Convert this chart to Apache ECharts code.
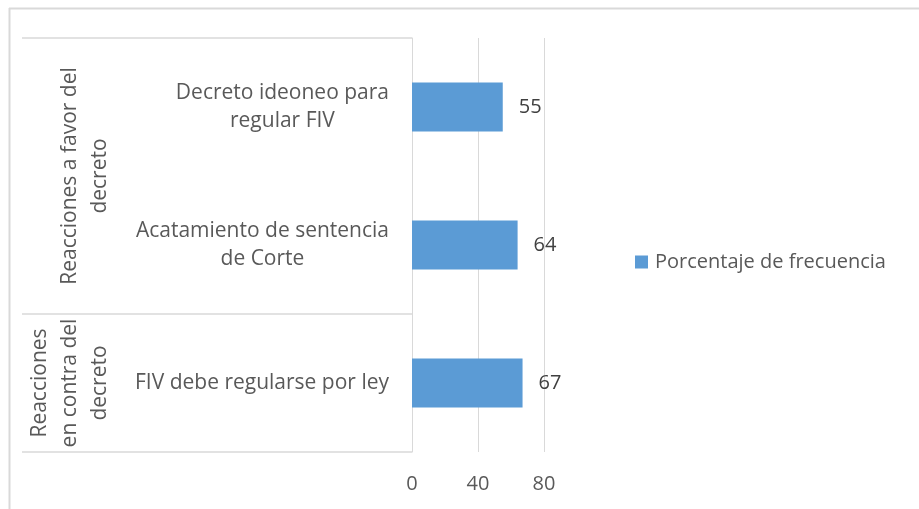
<!DOCTYPE html>
<html lang="es">
<head>
    <meta charset="UTF-8">
    <title>Reacciones al decreto</title>
    <style>
        html, body { margin: 0; padding: 0; background: #fff; }
        #main { width: 919px; height: 509px; }
    </style>
</head>
<body>
<div id="main"></div>
<script src="https://cdn.jsdelivr.net/npm/echarts@6/dist/echarts.min.js"></script>
<script>
    // datos
    var groups = ['Reacciones a favor del\ndecreto', 'Reacciones\nen contra del\ndecreto'];
    var groupSizes = [2, 1];
    var categories = ['Decreto ideoneo para\nregular FIV', 'Acatamiento de sentencia\nde Corte', 'FIV debe regularse por ley'];
    var values = [55, 64, 67];
    var xTicks = [0, 40, 80];
    var seriesName = 'Porcentaje de frecuencia';

    var font = 'Open Sans';
    var gray = '#d9d9d9';
    var chart = echarts.init(document.getElementById('main'));

    chart.setOption({
        animation: false,
        textStyle: { fontFamily: font },
        grid: { left: 412, right: 375, top: 38, bottom: 57, containLabel: false, outerBoundsMode: 'none' },
        legend: {
            data: [seriesName],
            left: 635,
            top: 252,
            padding: 0,
            icon: 'rect',
            itemWidth: 13,
            itemHeight: 13,
            textStyle: { fontSize: 20, color: '#595959', fontFamily: font, padding: [0, 0, 0, 2] }
        },
        xAxis: {
            type: 'value',
            min: xTicks[0],
            max: xTicks[xTicks.length - 1],
            interval: xTicks[1] - xTicks[0],
            axisLine: { show: false },
            axisTick: { show: false },
            splitLine: { lineStyle: { color: gray, width: 1 } },
            axisLabel: { fontSize: 20, color: '#595959', margin: 22, fontFamily: font }
        },
        yAxis: {
            type: 'category',
            data: categories,
            inverse: true,
            axisLine: { show: true, lineStyle: { color: gray, width: 1 } },
            axisTick: { show: false },
            axisLabel: {
                margin: 23,
                color: '#595959',
                fontSize: 21,
                lineHeight: 28,
                fontFamily: font,
                formatter: function (v) {
                    return v.split('\n').map(function (s) { return '{c|' + s + '}'; }).join('\n');
                },
                rich: { c: { align: 'center', fontSize: 21, lineHeight: 28, color: '#595959', fontFamily: font } }
            }
        },
        series: [{
            name: seriesName,
            type: 'bar',
            data: values,
            barWidth: 49,
            itemStyle: { color: '#5b9bd5' },
            label: { show: true, position: 'right', distance: 16, fontSize: 20, color: '#404040', fontFamily: font }
        }]
    });

    // etiquetas de grupo y separadores, a partir de la escala del eje
    function drawGroups() {
        var p = categories.map(function (c) { return chart.convertToPixel({ yAxisIndex: 0 }, c); });
        var band = p[1] - p[0];
        var left = 22, axisX = chart.convertToPixel({ xAxisIndex: 0 }, 0);
        var elements = [
            { type: 'line', shape: { x1: 9, y1: 8.5, x2: 919, y2: 8.5 }, style: { stroke: gray, lineWidth: 2 } },
            { type: 'line', shape: { x1: 9.5, y1: 8, x2: 9.5, y2: 509 }, style: { stroke: gray, lineWidth: 2 } }
        ];
        var start = 0;
        var top = p[0] - band / 2;
        elements.push({ type: 'line', shape: { x1: left, y1: top, x2: axisX, y2: top }, style: { stroke: gray, lineWidth: 1.5 } });
        groups.forEach(function (g, i) {
            var end = start + groupSizes[i] - 1;
            var y0 = p[start] - band / 2, y1 = p[end] + band / 2;
            elements.push({ type: 'line', shape: { x1: left, y1: y1, x2: axisX, y2: y1 }, style: { stroke: gray, lineWidth: 1.5 } });
            elements.push({
                type: 'text',
                x: 115,
                y: (y0 + y1) / 2,
                rotation: Math.PI / 2,
                style: {
                    text: g,
                    fontSize: 21,
                    lineHeight: 30,
                    fontFamily: font,
                    fill: '#595959',
                    align: 'center',
                    verticalAlign: 'bottom'
                }
            });
            start = end + 1;
        });
        chart.setOption({ graphic: elements });
    }
    drawGroups();
</script>
</body>
</html>
